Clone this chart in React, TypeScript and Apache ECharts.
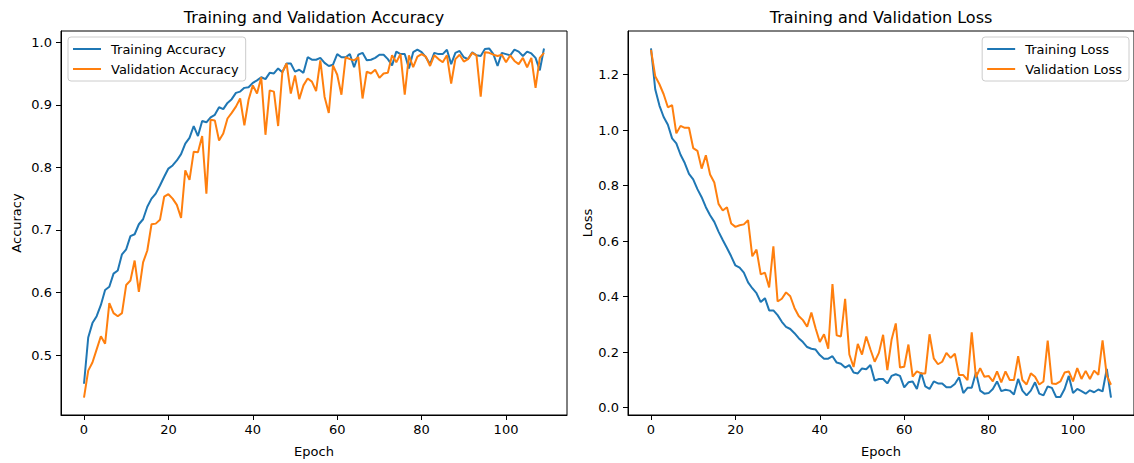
import React, { useEffect, useRef } from "react";
import * as echarts from "echarts";

const epochs: number[] = Array.from({ length: 110 }, (_, i) => i);

const trainAcc: number[] = [
  0.454, 0.528, 0.551, 0.562, 0.580, 0.604, 0.609, 0.630, 0.635, 0.661,
  0.669, 0.690, 0.693, 0.709, 0.717, 0.737, 0.750, 0.758, 0.771, 0.785,
  0.798, 0.803, 0.811, 0.821, 0.838, 0.847, 0.866, 0.850, 0.874, 0.872,
  0.880, 0.884, 0.896, 0.893, 0.903, 0.909, 0.919, 0.921, 0.927, 0.928,
  0.935, 0.939, 0.944, 0.941, 0.951, 0.950, 0.958, 0.952, 0.966, 0.966,
  0.953, 0.956, 0.951, 0.976, 0.972, 0.972, 0.975, 0.967, 0.962, 0.964,
  0.981, 0.976, 0.976, 0.981, 0.960, 0.980, 0.983, 0.971, 0.972, 0.975,
  0.980, 0.980, 0.973, 0.963, 0.985, 0.981, 0.981, 0.958, 0.984, 0.988,
  0.984, 0.976, 0.965, 0.983, 0.981, 0.981, 0.988, 0.965, 0.983, 0.986,
  0.976, 0.973, 0.984, 0.979, 0.978, 0.989, 0.990, 0.981, 0.962, 0.983,
  0.981, 0.979, 0.988, 0.985, 0.978, 0.985, 0.982, 0.975, 0.955, 0.990,
];

const valAcc: number[] = [
  0.432, 0.475, 0.488, 0.509, 0.530, 0.518, 0.583, 0.567, 0.562, 0.567,
  0.612, 0.619, 0.651, 0.601, 0.648, 0.667, 0.709, 0.710, 0.716, 0.753,
  0.757, 0.750, 0.740, 0.719, 0.795, 0.780, 0.825, 0.824, 0.850, 0.758,
  0.876, 0.875, 0.843, 0.854, 0.878, 0.887, 0.897, 0.910, 0.867, 0.908,
  0.931, 0.918, 0.944, 0.852, 0.923, 0.921, 0.866, 0.952, 0.966, 0.918,
  0.947, 0.909, 0.931, 0.942, 0.937, 0.922, 0.971, 0.913, 0.887, 0.963,
  0.948, 0.916, 0.976, 0.973, 0.971, 0.976, 0.910, 0.953, 0.950, 0.956,
  0.943, 0.950, 0.951, 0.979, 0.968, 0.981, 0.916, 0.979, 0.960, 0.977,
  0.981, 0.977, 0.962, 0.979, 0.973, 0.968, 0.979, 0.934, 0.973, 0.980,
  0.969, 0.973, 0.983, 0.979, 0.913, 0.984, 0.983, 0.980, 0.978, 0.980,
  0.968, 0.979, 0.970, 0.965, 0.975, 0.960, 0.975, 0.927, 0.975, 0.983,
];

const trainLoss: number[] = [
  1.294, 1.147, 1.088, 1.047, 1.019, 0.970, 0.952, 0.911, 0.881, 0.842,
  0.822, 0.787, 0.758, 0.722, 0.693, 0.669, 0.634, 0.604, 0.575, 0.545,
  0.512, 0.504, 0.486, 0.451, 0.430, 0.412, 0.380, 0.394, 0.350, 0.350,
  0.333, 0.309, 0.291, 0.283, 0.268, 0.250, 0.236, 0.218, 0.212, 0.209,
  0.189, 0.176, 0.176, 0.185, 0.162, 0.158, 0.144, 0.153, 0.126, 0.123,
  0.141, 0.138, 0.153, 0.097, 0.103, 0.103, 0.087, 0.114, 0.120, 0.114,
  0.073, 0.091, 0.094, 0.067, 0.126, 0.076, 0.067, 0.094, 0.087, 0.087,
  0.073, 0.073, 0.085, 0.109, 0.052, 0.071, 0.071, 0.126, 0.061, 0.050,
  0.052, 0.067, 0.094, 0.059, 0.064, 0.061, 0.047, 0.103, 0.061, 0.044,
  0.061, 0.091, 0.050, 0.044, 0.076, 0.071, 0.038, 0.038, 0.067, 0.114,
  0.052, 0.067, 0.059, 0.050, 0.062, 0.055, 0.065, 0.058, 0.139, 0.036,
];

const valLoss: number[] = [
  1.289, 1.194, 1.165, 1.129, 1.082, 1.090, 0.988, 1.015, 1.008, 1.008,
  0.935, 0.925, 0.861, 0.909, 0.840, 0.811, 0.734, 0.710, 0.722, 0.663,
  0.651, 0.657, 0.660, 0.675, 0.545, 0.569, 0.480, 0.486, 0.433, 0.581,
  0.382, 0.392, 0.415, 0.401, 0.359, 0.330, 0.315, 0.291, 0.342, 0.286,
  0.236, 0.264, 0.212, 0.445, 0.260, 0.256, 0.392, 0.191, 0.146, 0.229,
  0.191, 0.256, 0.209, 0.165, 0.197, 0.262, 0.135, 0.244, 0.303, 0.144,
  0.147, 0.227, 0.111, 0.130, 0.123, 0.123, 0.264, 0.177, 0.156, 0.165,
  0.197, 0.179, 0.194, 0.117, 0.117, 0.099, 0.271, 0.109, 0.142, 0.111,
  0.114, 0.094, 0.130, 0.091, 0.130, 0.099, 0.099, 0.185, 0.099, 0.083,
  0.123, 0.111, 0.083, 0.094, 0.241, 0.087, 0.085, 0.094, 0.126, 0.130,
  0.094, 0.142, 0.103, 0.132, 0.103, 0.133, 0.118, 0.242, 0.115, 0.082,
];

const xTicks: number[] = [0, 20, 40, 60, 80, 100];
const accTicks: number[] = [0.5, 0.6, 0.7, 0.8, 0.9, 1.0];
const lossTicks: number[] = [0.0, 0.2, 0.4, 0.6, 0.8, 1.0, 1.2];

const FONT = "DejaVu Sans";
const BLUE = "#1f77b4";
const ORANGE = "#ff7f0e";

function padRange(arrs: number[][]): [number, number] {
  let lo = Infinity;
  let hi = -Infinity;
  arrs.forEach((a) => a.forEach((v) => { lo = Math.min(lo, v); hi = Math.max(hi, v); }));
  const m = (hi - lo) * 0.05;
  return [lo - m, hi + m];
}

export default function App() {
  const ref = useRef<HTMLDivElement>(null);
  useEffect(() => {
    if (!ref.current) return;
    const chart = echarts.init(ref.current, undefined, { renderer: "svg" });
    const [accMin, accMax] = padRange([trainAcc, valAcc]);
    const [lossMin, lossMax] = padRange([trainLoss, valLoss]);
    const xMin = -0.05 * (epochs.length - 1);
    const xMax = (epochs.length - 1) * 1.05;
    const grids = [
      { left: 61, top: 31, width: 506, height: 392 },
      { left: 628, top: 31, width: 506, height: 392 },
    ];
    const txt = { fontFamily: FONT, fontSize: 13, color: "#000" };
    const mkX = (gi: number) => ({
      type: "value",
      gridIndex: gi,
      min: xMin,
      max: xMax,
      name: "Epoch",
      nameLocation: "middle",
      nameGap: 30,
      nameTextStyle: txt,
      axisLine: { show: true, onZero: false, lineStyle: { color: "#000", width: 1 } },
      axisTick: { show: true, length: 5, customValues: xTicks, lineStyle: { color: "#000", width: 1 } },
      axisLabel: { ...txt, margin: 8, customValues: xTicks, formatter: (v: number) => String(Math.round(v)) },
      splitLine: { show: false },
    });
    const mkY = (gi: number, name: string, mn: number, mx: number, ticks: number[], gap: number) => ({
      type: "value",
      gridIndex: gi,
      min: mn,
      max: mx,
      name,
      nameLocation: "middle",
      nameGap: gap,
      nameRotate: 90,
      nameTextStyle: txt,
      axisLine: { show: true, onZero: false, lineStyle: { color: "#000", width: 1 } },
      axisTick: { show: true, length: 5, customValues: ticks, lineStyle: { color: "#000", width: 1 } },
      axisLabel: { ...txt, margin: 9, customValues: ticks, formatter: (v: number) => v.toFixed(1) },
      splitLine: { show: false },
    });
    const legendBase = {
      orient: "vertical",
      icon: "rect",
      itemWidth: 28,
      itemHeight: 2,
      itemGap: 6,
      padding: [5, 7, 5, 5],
      backgroundColor: "#ffffff",
      borderColor: "#cccccc",
      borderWidth: 1,
      borderRadius: 3,
      selectedMode: false,
      textStyle: { ...txt, padding: [0, 0, 0, 5], lineHeight: 14 },
    };
    const mkSeries = (name: string, arr: number[], color: string, gi: number) => ({
      type: "line",
      name,
      xAxisIndex: gi,
      yAxisIndex: gi,
      data: epochs.map((e, i) => [e, arr[i]]),
      showSymbol: false,
      symbol: "none",
      lineStyle: { width: 2, color },
      itemStyle: { color },
      emphasis: { disabled: true },
    });
    chart.setOption({
      animation: false,
      backgroundColor: "#ffffff",
      title: [
        { text: "Training and Validation Accuracy", left: 314, top: 9, padding: 0, textAlign: "center",
          textStyle: { fontFamily: FONT, fontSize: 16, fontWeight: "normal", color: "#000" } },
        { text: "Training and Validation Loss", left: 881, top: 9, padding: 0, textAlign: "center",
          textStyle: { fontFamily: FONT, fontSize: 16, fontWeight: "normal", color: "#000" } },
      ],
      grid: grids.map((g) => ({ ...g, show: true, borderColor: "#000", borderWidth: 1, backgroundColor: "transparent" })),
      xAxis: [mkX(0), mkX(1)],
      yAxis: [
        mkY(0, "Accuracy", accMin, accMax, accTicks, 38),
        mkY(1, "Loss", lossMin, lossMax, lossTicks, 30),
      ],
      legend: [
        { ...legendBase, left: 68, top: 37, data: ["Training Accuracy", "Validation Accuracy"] },
        { ...legendBase, right: 5, top: 37, data: ["Training Loss", "Validation Loss"] },
      ],
      series: [
        mkSeries("Training Accuracy", trainAcc, BLUE, 0),
        mkSeries("Validation Accuracy", valAcc, ORANGE, 0),
        mkSeries("Training Loss", trainLoss, BLUE, 1),
        mkSeries("Validation Loss", valLoss, ORANGE, 1),
      ],
    });
    return () => chart.dispose();
  }, []);
  return (
    <div
      ref={ref}
      style={{ position: "absolute", left: 0, top: 0, width: 1134, height: 463, background: "#fff" }}
    />
  );
}
